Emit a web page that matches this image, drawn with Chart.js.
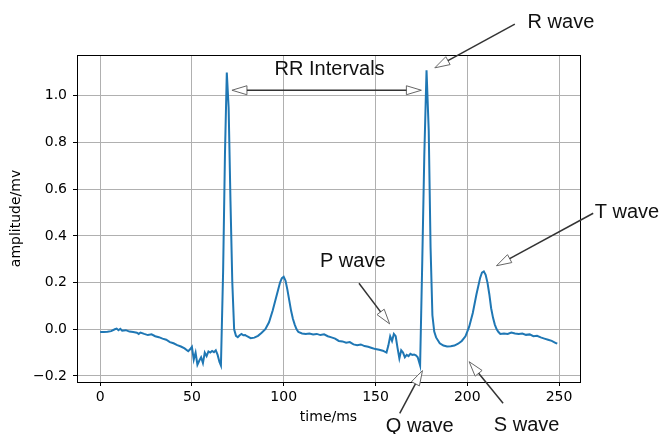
<!DOCTYPE html>
<html>
<head>
<meta charset="utf-8">
<script src="https://cdn.jsdelivr.net/npm/chart.js@4.4.1/dist/chart.umd.min.js"></script>
<style>
    html, body { margin: 0; padding: 0; background: #fff; }
    #wrap { width: 661px; height: 434px; }
</style>
</head>
<body>
<div id="wrap"><canvas id="ecgChart" width="661" height="434"></canvas></div>
<script>
// ECG trace (time in ms, amplitude in mV)
const timeMs = [
    0, 2, 4, 6, 8, 9, 10, 11, 12, 14, 16, 18, 20, 21, 22, 24, 26, 28, 30, 32,
    34, 36, 38, 40, 42, 44, 46, 48, 49, 50, 51, 52, 53, 54, 55, 56, 57, 58, 59, 60,
    61, 62, 63, 64, 65, 65.8, 67, 68, 69, 70, 71, 72, 73, 74, 75, 76, 77, 78, 79, 80,
    82, 84, 86, 88, 90, 92, 94, 96, 98, 99, 100, 101, 102, 103, 104, 105, 106, 107, 108, 110,
    112, 114, 116, 118, 120, 122, 124, 126, 128, 130, 132, 134, 136, 138, 140, 142, 144, 146, 148, 150,
    152, 154, 156, 157, 158, 159, 160, 161, 162, 163, 164, 165, 166, 167, 168, 169, 170, 171, 172, 173,
    174.3, 175.5, 176.6, 177.8, 179, 180, 181, 182, 183, 185, 187, 189, 191, 193, 195, 197, 199, 201, 203, 205,
    207, 208, 209, 210, 211, 212, 213, 214, 215, 216, 217, 218, 220, 222, 224, 226, 228, 230, 232, 234,
    236, 238, 240, 242, 244, 246, 248, 249
];
const amplitude = [
    -0.012, -0.012, -0.011, -0.008, 0.0, 0.003, -0.004, 0.002, -0.006, -0.004, -0.01, -0.012, -0.015, -0.02, -0.014, -0.02, -0.025, -0.022, -0.03, -0.034,
    -0.04, -0.045, -0.055, -0.06, -0.068, -0.074, -0.082, -0.094, -0.086, -0.075, -0.13, -0.1, -0.152, -0.135, -0.12, -0.145, -0.1, -0.115, -0.095, -0.1,
    -0.093, -0.098, -0.09, -0.11, -0.14, -0.155, 0.25, 0.75, 1.10, 0.95, 0.55, 0.2, 0.0, -0.028, -0.034, -0.026, -0.02, -0.026, -0.025, -0.03,
    -0.038, -0.036, -0.028, -0.015, 0.0, 0.03, 0.08, 0.14, 0.2, 0.219, 0.225, 0.208, 0.17, 0.125, 0.08, 0.045, 0.02, 0.0, -0.012, -0.018,
    -0.02, -0.018, -0.022, -0.02, -0.025, -0.022, -0.03, -0.035, -0.04, -0.05, -0.052, -0.058, -0.055, -0.065, -0.068, -0.065, -0.072, -0.075, -0.08, -0.085,
    -0.088, -0.092, -0.1, -0.07, -0.03, -0.05, -0.02, -0.03, -0.08, -0.125, -0.09, -0.1, -0.12, -0.11, -0.115, -0.105, -0.11, -0.108, -0.112, -0.12,
    -0.155, 0.3, 0.75, 1.11, 0.85, 0.35, 0.06, -0.01, -0.035, -0.06, -0.07, -0.074, -0.073, -0.07, -0.062, -0.05, -0.03, 0.01, 0.07, 0.15,
    0.22, 0.243, 0.248, 0.233, 0.2, 0.15, 0.09, 0.05, 0.02, 0.0, -0.012, -0.02, -0.018, -0.02, -0.014, -0.018, -0.02, -0.018, -0.024, -0.022,
    -0.03, -0.028, -0.035, -0.04, -0.045, -0.05, -0.058, -0.062
];
const xTicks = [0, 50, 100, 150, 200, 250];
const yTicks = [-0.2, 0.0, 0.2, 0.4, 0.6, 0.8, 1.0];

// Annotation labels and arrows, in data coordinates
const noteLabels = ['RR Intervals', 'R wave', 'T wave', 'P wave', 'Q wave', 'S wave'];
const noteTextAt = [[125, 1.113], [251, 1.316], [287, 0.502], [137.6, 0.29], [174.1, -0.417], [232.3, -0.414]];
const noteFrom = [[71.8, 1.024], [225.9, 1.307], [268.6, 0.497], [141, 0.197], [163.2, -0.36], [219.5, -0.317]];
const noteTo = [[175, 1.024], [182.3, 1.12], [215.9, 0.272], [157.7, 0.023], [175.6, -0.177], [201, -0.139]];
const noteBothEnds = [true, false, false, false, false, false];

function drawHead(ctx, fx, fy, tx, ty) {
    const ang = Math.atan2(ty - fy, tx - fx);
    const len = 15, half = 4.5;
    const bx = tx - len * Math.cos(ang), by = ty - len * Math.sin(ang);
    ctx.beginPath();
    ctx.moveTo(tx, ty);
    ctx.lineTo(bx + half * Math.sin(ang), by - half * Math.cos(ang));
    ctx.lineTo(bx - half * Math.sin(ang), by + half * Math.cos(ang));
    ctx.closePath();
    ctx.fillStyle = '#fff';
    ctx.fill();
    ctx.lineWidth = 1;
    ctx.strokeStyle = '#666';
    ctx.stroke();
    return [bx, by];
}

const annotatePlugin = {
    id: 'annotate',
    afterDraw(chart) {
        const ctx = chart.ctx;
        const xs = chart.scales.x, ys = chart.scales.y;
        const area = chart.chartArea;
        ctx.save();

        // frame on all four sides
        ctx.strokeStyle = '#000';
        ctx.lineWidth = 1;
        ctx.strokeRect(area.left + 0.5, area.top + 0.5, area.right - area.left, area.bottom - area.top);

        // axis titles
        ctx.fillStyle = '#000';
        ctx.font = '14px "DejaVu Sans"';
        ctx.textAlign = 'center';
        ctx.textBaseline = 'middle';
        ctx.fillText('time/ms', (area.left + area.right) / 2, 417);
        ctx.save();
        ctx.translate(16, (area.top + area.bottom) / 2);
        ctx.rotate(-Math.PI / 2);
        ctx.fillText('amplitude/mv', 0, 0);
        ctx.restore();

        // arrows
        for (let i = 0; i < noteLabels.length; i++) {
            let fx = xs.getPixelForValue(noteFrom[i][0]), fy = ys.getPixelForValue(noteFrom[i][1]);
            const tx = xs.getPixelForValue(noteTo[i][0]), ty = ys.getPixelForValue(noteTo[i][1]);
            const end = drawHead(ctx, fx, fy, tx, ty);
            let start = [fx, fy];
            if (noteBothEnds[i]) start = drawHead(ctx, tx, ty, fx, fy);
            ctx.beginPath();
            ctx.moveTo(start[0], start[1]);
            ctx.lineTo(end[0], end[1]);
            ctx.strokeStyle = '#333';
            ctx.lineWidth = 1.5;
            ctx.stroke();
        }

        // labels
        ctx.fillStyle = '#111';
        ctx.font = '20px "Liberation Sans"';
        ctx.textAlign = 'center';
        ctx.textBaseline = 'middle';
        for (let i = 0; i < noteLabels.length; i++) {
            ctx.fillText(noteLabels[i], xs.getPixelForValue(noteTextAt[i][0]), ys.getPixelForValue(noteTextAt[i][1]));
        }
        ctx.restore();
    }
};

const ecgCtx = document.getElementById('ecgChart').getContext('2d');
new Chart(ecgCtx, {
    type: 'line',
    data: {
        datasets: [{
            data: timeMs.map((t, i) => ({ x: t, y: amplitude[i] })),
            borderColor: '#1f77b4',
            borderWidth: 2,
            pointRadius: 0,
            tension: 0,
            fill: false
        }]
    },
    options: {
        responsive: false,
        animation: false,
        layout: { padding: { left: 0, top: 55, right: 81, bottom: 0 } },
        plugins: { legend: { display: false }, tooltip: { enabled: false } },
        scales: {
            x: {
                type: 'linear',
                min: -12.6,
                max: 261.4,
                afterBuildTicks: s => { s.ticks = xTicks.map(v => ({ value: v })); },
                afterFit: s => { s.height = 52; },
                grid: { color: '#b0b0b0', lineWidth: 1, tickLength: 4, tickColor: '#000' },
                border: { display: true, color: '#000' },
                ticks: { color: '#000', font: { family: 'DejaVu Sans', size: 14 }, padding: 3, maxRotation: 0 }
            },
            y: {
                min: -0.226,
                max: 1.175,
                afterBuildTicks: s => { s.ticks = yTicks.map(v => ({ value: v })); },
                afterFit: s => { s.width = 77; },
                grid: { color: '#b0b0b0', lineWidth: 1, tickLength: 4, tickColor: '#000' },
                border: { display: true, color: '#000' },
                ticks: {
                    color: '#000',
                    font: { family: 'DejaVu Sans', size: 14 },
                    padding: 6,
                    callback: v => (v < -1e-9 ? '\u2212' + Math.abs(v).toFixed(1) : Math.abs(v).toFixed(1))
                }
            }
        }
    },
    plugins: [annotatePlugin]
});
</script>
</body>
</html>
